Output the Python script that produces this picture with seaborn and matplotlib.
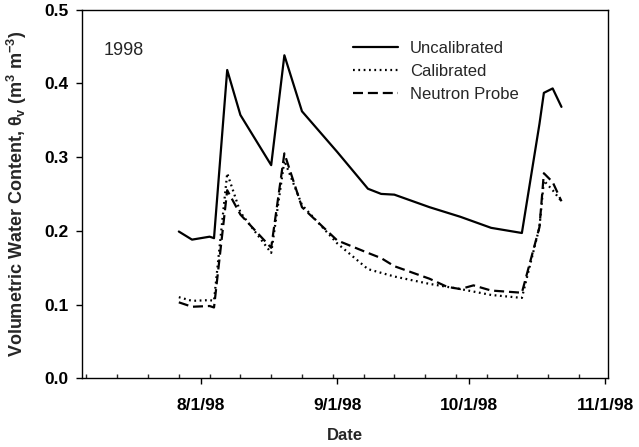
import numpy as np
import pandas as pd
import seaborn as sns
import matplotlib.pyplot as plt
import matplotlib.dates as mdates
from matplotlib.ticker import FuncFormatter, MultipleLocator

# --- data (1998 season) ---
PROBE_DATES = ["1998-07-27", "1998-07-30", "1998-08-03", "1998-08-04", "1998-08-07",
               "1998-08-10", "1998-08-17", "1998-08-20", "1998-08-24", "1998-09-01",
               "1998-09-08", "1998-09-11", "1998-09-14", "1998-09-22", "1998-09-29",
               "1998-10-06", "1998-10-13", "1998-10-17", "1998-10-18", "1998-10-20",
               "1998-10-22"]
UNCALIBRATED = [0.199, 0.188, 0.192, 0.190, 0.418, 0.357, 0.289, 0.438, 0.362, 0.307,
                0.257, 0.250, 0.249, 0.232, 0.219, 0.204, 0.197, 0.345, 0.387, 0.393,
                0.368]
CALIBRATED = [0.110, 0.105, 0.106, 0.105, 0.278, 0.225, 0.170, 0.295, 0.235, 0.183,
              0.148, 0.143, 0.138, 0.128, 0.121, 0.113, 0.109, 0.205, 0.268, 0.255,
              0.240]

NP_DATES = ["1998-07-27", "1998-07-30", "1998-08-03", "1998-08-04", "1998-08-07",
            "1998-08-10", "1998-08-17", "1998-08-20", "1998-08-24", "1998-09-01",
            "1998-09-08", "1998-09-11", "1998-09-14", "1998-09-22", "1998-09-26",
            "1998-09-29", "1998-10-02", "1998-10-06", "1998-10-13", "1998-10-17",
            "1998-10-18", "1998-10-20", "1998-10-22"]
NEUTRON_PROBE = [0.103, 0.097, 0.098, 0.096, 0.255, 0.222, 0.177, 0.305, 0.232, 0.187,
                 0.170, 0.163, 0.152, 0.135, 0.124, 0.121, 0.126, 0.119, 0.116, 0.205,
                 0.278, 0.266, 0.240]

probe_dates = pd.to_datetime(PROBE_DATES)
np_dates = pd.to_datetime(NP_DATES)

sns.set_style("ticks")
plt.rcParams['font.family'] = ['Liberation Sans', 'DejaVu Sans']

fig = plt.figure(figsize=(6.39, 4.47), dpi=100)
ax = fig.add_axes([0.129, 0.1537, 0.8225, 0.825])

sns.lineplot(x=probe_dates, y=UNCALIBRATED, ax=ax, color='black', lw=1.6,
             estimator=None, sort=False, label='Uncalibrated')
sns.lineplot(x=probe_dates, y=CALIBRATED, ax=ax, color='black', lw=1.6,
             linestyle=(0, (0.8, 1.6)), estimator=None, sort=False, label='Calibrated')
sns.lineplot(x=np_dates, y=NEUTRON_PROBE, ax=ax, color='black', lw=1.6,
             linestyle=(0, (4.5, 2.2)), estimator=None, sort=False, label='Neutron Probe')

# axes ranges and ticks
ax.set_xlim(pd.Timestamp("1998-07-05 02:00"), pd.Timestamp("1998-11-01 14:00"))
ax.set_ylim(0, 0.5)
ax.yaxis.set_major_locator(MultipleLocator(0.1))
ax.yaxis.set_major_formatter(FuncFormatter(lambda v, p: f"{v:.1f}"))
ax.xaxis.set_major_locator(mdates.MonthLocator(bymonth=[8, 9, 10, 11]))
ax.xaxis.set_minor_locator(mdates.WeekdayLocator(byweekday=mdates.MO))
ax.xaxis.set_major_formatter(FuncFormatter(
    lambda v, p: (lambda d: f"{d.month}/{d.day}/{d.year % 100:02d}")(mdates.num2date(v))))

ax.tick_params(axis='both', which='major', direction='out', length=4, width=1,
               labelsize=12.5, pad=6, colors='black')
ax.tick_params(axis='x', which='major', pad=10)
ax.tick_params(axis='x', which='minor', direction='in', length=3, width=1)
for lab in ax.get_xticklabels() + ax.get_yticklabels():
    lab.set_fontweight('bold')

for sp in ax.spines.values():
    sp.set_visible(True)
    sp.set_linewidth(1.0)
    sp.set_color('black')

ax.set_xlabel('Date', fontsize=12, fontweight='bold', labelpad=11)
ax.set_ylabel('Volumetric Water Content, θ$_\\mathregular{v}$ '
              '(m$^\\mathregular{3}$ m$^\\mathregular{-3}$)',
              fontsize=13, fontweight='bold', labelpad=11)

ax.text(0.041, 0.89, '1998', transform=ax.transAxes, fontsize=13,
        ha='left', va='center')

ax.legend(loc='upper left', bbox_to_anchor=(0.515, 0.914), frameon=False,
          fontsize=12, handlelength=2.7, handletextpad=0.7, labelspacing=0.48,
          borderpad=0, borderaxespad=0)

fig.savefig('out.png', dpi=100)
